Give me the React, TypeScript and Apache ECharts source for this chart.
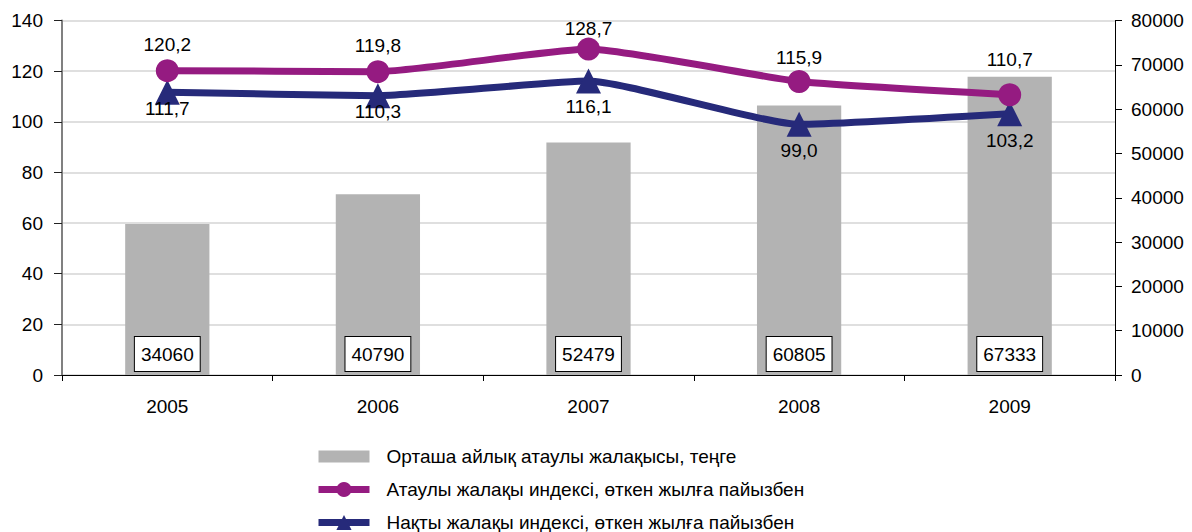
import React, { useEffect, useRef } from "react";
import * as echarts from "echarts";

const years = ["2005", "2006", "2007", "2008", "2009"];
const avgWage = [34060, 40790, 52479, 60805, 67333];
const nominalIndex = [120.2, 119.8, 128.7, 115.9, 110.7];
const realIndex = [111.7, 110.3, 116.1, 99.0, 103.2];

const nameBar = "Орташа айлық атаулы жалақысы, теңге";
const nameNominal = "Атаулы жалақы индексі, өткен жылға пайызбен";
const nameReal = "Нақты жалақы индексі, өткен жылға пайызбен";

// label vertical offsets (style only)
const nominalLabelDy = [-26, -26, -21, -24, -35];
const realLabelDy = [16, 16, 25, 26, 27];

const FONT = "'Liberation Sans', Arial, sans-serif";
const fmt = (v: number) => v.toFixed(1).replace(".", ",");

export default function App() {
  const ref = useRef<HTMLDivElement>(null);
  useEffect(() => {
    if (!ref.current) return;
    const chart = echarts.init(ref.current, null, { renderer: "svg" });
    const lineLabel = (dy: number) => ({
      show: true,
      position: "inside",
      offset: [0, dy],
      color: "#000",
      fontSize: 19,
      fontFamily: FONT,
      formatter: (p: any) => fmt(p.value),
    });
    chart.setOption({
      animation: false,
      textStyle: { fontFamily: FONT },
      grid: { left: 62, right: 77, top: 20.5, bottom: 157 },
      legend: {
        orient: "vertical",
        left: 315,
        top: 447,
        padding: 0,
        itemWidth: 51,
        itemHeight: 19,
        itemGap: 14,
        symbolKeepAspect: true,
        lineStyle: { width: 7 },
        textStyle: { fontSize: 19, color: "#000", fontFamily: FONT, lineHeight: 19, padding: [0, 0, 0, 12] },
        data: [
          { name: nameBar, icon: "path://M0,0h51v12h-51z" },
          { name: nameNominal },
          { name: nameReal },
        ],
      },
      xAxis: {
        type: "category",
        data: years,
        boundaryGap: true,
        axisLine: { lineStyle: { color: "#000", width: 1 } },
        axisTick: { show: true, length: 6, lineStyle: { color: "#000" } },
        axisLabel: { fontSize: 19, color: "#000", margin: 22, fontFamily: FONT },
      },
      yAxis: [
        {
          type: "value",
          min: 0,
          max: 140,
          interval: 20,
          axisLine: { show: true, lineStyle: { color: "#808080", width: 2 } },
          axisTick: { show: true, length: 8, lineStyle: { color: "#222" } },
          axisLabel: { fontSize: 19, color: "#000", margin: 19, fontFamily: FONT },
          splitLine: { show: true, lineStyle: { color: "#d4d4d4", width: 1.5 } },
        },
        {
          type: "value",
          min: 0,
          max: 80000,
          interval: 10000,
          position: "right",
          axisLine: { show: true, lineStyle: { color: "#000", width: 1 } },
          axisTick: { show: true, length: 7, lineStyle: { color: "#000" } },
          axisLabel: {
            fontSize: 19,
            color: "#000",
            margin: 16,
            fontFamily: FONT,
            formatter: (v: number) => String(v),
          },
          splitLine: { show: false },
        },
      ],
      series: [
        {
          name: nameBar,
          type: "bar",
          yAxisIndex: 1,
          barWidth: "40%",
          data: avgWage,
          itemStyle: { color: "#b3b3b3" },
          label: {
            show: true,
            position: "insideBottom",
            distance: 4,
            color: "#000",
            fontSize: 19,
            fontFamily: FONT,
            backgroundColor: "#fff",
            borderColor: "#000",
            borderWidth: 1,
            padding: [8, 6, 7, 6],
          },
          z: 1,
        },
        {
          name: nameReal,
          type: "line",
          yAxisIndex: 0,
          smooth: 0.15,
          symbol: "triangle",
          symbolSize: 25,
          lineStyle: { color: "#262a7a", width: 7 },
          itemStyle: { color: "#262a7a" },
          data: realIndex.map((v, i) => ({ value: v, label: lineLabel(realLabelDy[i]) })),
          z: 3,
        },
        {
          name: nameNominal,
          type: "line",
          yAxisIndex: 0,
          smooth: 0.15,
          symbol: "circle",
          symbolSize: 23,
          lineStyle: { color: "#951b81", width: 7 },
          itemStyle: { color: "#951b81" },
          data: nominalIndex.map((v, i) => ({ value: v, label: lineLabel(nominalLabelDy[i]) })),
          z: 4,
        },
      ],
    });
    return () => chart.dispose();
  }, []);
  return (
    <div
      ref={ref}
      style={{ position: "fixed", left: 0, top: 0, width: 1192, height: 532, background: "#fff" }}
    />
  );
}
